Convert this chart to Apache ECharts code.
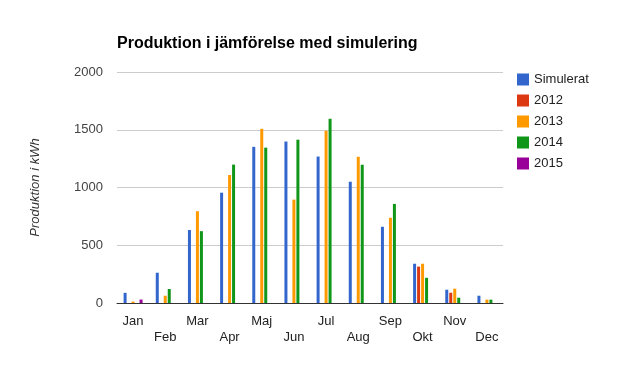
<!DOCTYPE html>
<html>
<head>
<meta charset="utf-8">
<script src="https://cdn.jsdelivr.net/npm/echarts@6/dist/echarts.min.js"></script>
<style>
  html, body { margin: 0; padding: 0; background: #fff; }
  #chart { width: 620px; height: 375px; }
</style>
</head>
<body>
<div id="chart"></div>
<script>
const months = ['Jan', 'Feb', 'Mar', 'Apr', 'Maj', 'Jun', 'Jul', 'Aug', 'Sep', 'Okt', 'Nov', 'Dec']
const seriesNames = ['Simulerat', '2012', '2013', '2014', '2015']
const colors = ['#3366cc', '#dc3912', '#ff9900', '#109618', '#990099']

const simulerat = [88, 262, 632, 955, 1352, 1398, 1268, 1050, 660, 340, 115, 63]
const y2012 = [null, null, null, null, null, null, null, null, null, 315, 89, null]
const y2013 = [12, 63, 795, 1108, 1508, 895, 1492, 1266, 738, 340, 124, 29]
const y2014 = [null, 121, 622, 1198, 1345, 1414, 1595, 1197, 858, 218, 46, 29]
const y2015 = [30, null, null, null, null, null, null, null, null, null, null, null]

const chart = echarts.init(document.getElementById('chart'))
const font = 'Liberation Sans, Arial, sans-serif'

const series = [simulerat, y2012, y2013, y2014, y2015].map((vals, i) => ({
  name: seriesNames[i],
  type: 'bar',
  data: vals,
  barWidth: 3,
  barGap: '33%',
  itemStyle: { color: colors[i] }
}))

chart.setOption({
  animation: false,
  textStyle: { fontFamily: font },
  title: {
    text: 'Produktion i jämförelse med simulering',
    left: 112,
    top: 31,
    textStyle: { fontSize: 16, fontWeight: 'bold', color: '#000', fontFamily: font }
  },
  legend: {
    orient: 'vertical',
    left: 512,
    top: 68,
    icon: 'rect',
    itemWidth: 12,
    itemHeight: 12,
    itemGap: 8,
    textStyle: { fontSize: 13, color: '#222', fontFamily: font },
    data: seriesNames
  },
  grid: { left: 117, right: 117, top: 72, bottom: 72 },
  xAxis: {
    type: 'category',
    data: months,
    axisTick: { show: false },
    axisLine: { lineStyle: { color: '#333', width: 1 } },
    axisLabel: {
      interval: 0,
      color: '#222',
      fontSize: 13,
      lineHeight: 16,
      margin: 10,
      formatter: (v, i) => (i % 2 ? '\n' + v : v)
    }
  },
  yAxis: {
    type: 'value',
    min: 0,
    max: 2000,
    interval: 500,
    name: 'Produktion i kWh',
    nameLocation: 'middle',
    nameMoveOverlap: false,
    nameGap: 75,
    nameTextStyle: { fontStyle: 'italic', fontSize: 13, color: '#333', fontFamily: font },
    axisLabel: { color: '#444', fontSize: 13, margin: 14, formatter: (v) => String(v) },
    splitLine: { lineStyle: { color: '#cccccc' } },
    axisLine: { show: false },
    axisTick: { show: false }
  },
  series
})
</script>
</body>
</html>
